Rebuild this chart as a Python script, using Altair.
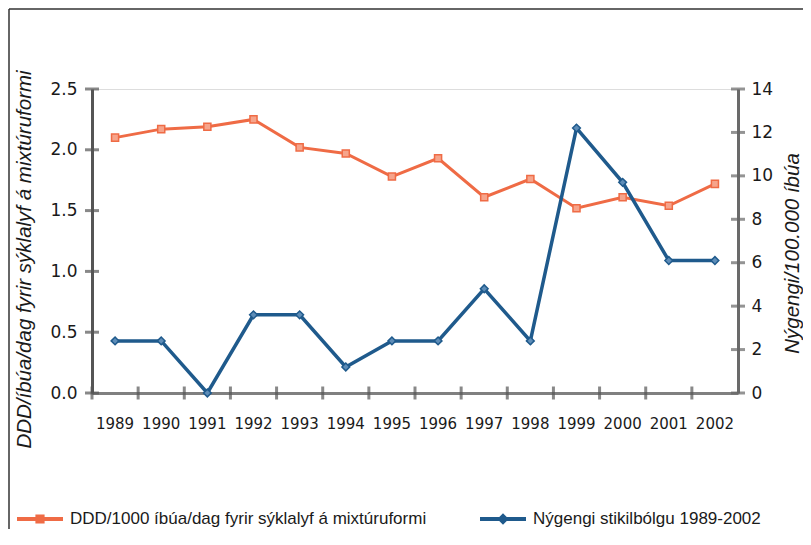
import altair as alt
import pandas as pd

years = [1989, 1990, 1991, 1992, 1993, 1994, 1995, 1996, 1997, 1998, 1999, 2000, 2001, 2002]
ddd = [2.10, 2.17, 2.19, 2.25, 2.02, 1.97, 1.78, 1.93, 1.61, 1.76, 1.52, 1.61, 1.54, 1.72]
incidence = [2.4, 2.4, 0.0, 3.6, 3.6, 1.2, 2.4, 2.4, 4.8, 2.4, 12.2, 9.7, 6.1, 6.1]
left_ticks = [0.0, 0.5, 1.0, 1.5, 2.0, 2.5]
right_ticks = [0, 2, 4, 6, 8, 10, 12, 14]
series_names = ["DDD/1000 íbúa/dag fyrir sýklalyf á mixtúruformi", "Nýgengi stikilbólgu 1989-2002"]
left_title = "DDD/íbúa/dag fyrir sýklalyf á mixtúruformi"
right_title = "Nýgengi/100.000 íbúa"

ORANGE = "#EF6B45"
ORANGE_FILL = "#F6A48B"
BLUE = "#1F5A8C"
BLUE_FILL = "#5E8DB8"
AX = "#555555"

W, H = 646, 304

df_o = pd.DataFrame({"year": years, "value": ddd, "series": series_names[0]})
df_b = pd.DataFrame({"year": years, "value": incidence, "series": series_names[1]})
df_all = pd.concat([df_o, df_b], ignore_index=True)
df_lt = pd.DataFrame({"v": left_ticks})
df_rt = pd.DataFrame({"v": right_ticks})
df_one = pd.DataFrame({"a": [0]})

xscale = alt.Scale(type="band", paddingInner=0, paddingOuter=0)

x_axis = alt.Axis(
    title=None, labelAngle=0, domain=True, domainColor="#808080", domainWidth=3,
    ticks=False, tickSize=0, labelPadding=23, labelFont="DejaVu Sans", labelFontSize=15,
    labelColor="#1a1a1a", grid=False,
)

orange = alt.Chart(df_o).mark_line(
    color=ORANGE, strokeWidth=3,
    point=alt.OverlayMarkDef(shape="square", size=50, filled=True, fill=ORANGE_FILL,
                             stroke=ORANGE, strokeWidth=1.5),
).encode(
    x=alt.X("year:O", scale=xscale, axis=x_axis),
    y=alt.Y("value:Q", scale=alt.Scale(domain=[0, 2.5], nice=False),
            axis=alt.Axis(orient="left", title=left_title, values=left_ticks, format=".1f",
                          domain=True, domainColor=AX, domainWidth=3, ticks=False, tickSize=0,
                          labelPadding=15, labelFont="DejaVu Sans", labelFontSize=17,
                          labelColor="#1a1a1a", grid=False,
                          titleFont="Liberation Sans", titleFontStyle="italic",
                          titleFontWeight="normal", titleFontSize=20.5, titleColor="#1a1a1a",
                          titlePadding=15, titleY=170)),
)

blue = alt.Chart(df_b).mark_line(
    color=BLUE, strokeWidth=3.5,
    point=alt.OverlayMarkDef(shape="diamond", size=60, filled=True, fill=BLUE_FILL,
                             stroke=BLUE, strokeWidth=1.5),
).encode(
    x=alt.X("year:O", scale=xscale, axis=x_axis),
    y=alt.Y("value:Q", scale=alt.Scale(domain=[0, 14], nice=False),
            axis=alt.Axis(orient="right", title=right_title, values=right_ticks, format="d",
                          domain=True, domainColor="#6a6a6a", domainWidth=3, ticks=False,
                          tickSize=0, labelPadding=13, labelFont="DejaVu Sans",
                          labelFontSize=17, labelColor="#1a1a1a", grid=False,
                          titleFont="Liberation Sans", titleFontStyle="italic",
                          titleFontWeight="normal", titleFontSize=20.5, titleColor="#1a1a1a",
                          titlePadding=10, titleAngle=270, titleBaseline="top", titleY=164)),
)

lticks = alt.Chart(df_lt).mark_tick(orient="horizontal", size=14, thickness=3, color=AX).encode(
    y=alt.Y("v:Q", scale=alt.Scale(domain=[0, 2.5], nice=False), axis=None),
    x=alt.value(0),
)
rticks = alt.Chart(df_rt).mark_tick(orient="horizontal", size=14, thickness=3, color="#666666").encode(
    y=alt.Y("v:Q", scale=alt.Scale(domain=[0, 14], nice=False), axis=None),
    x=alt.value(W),
)
xticks = alt.Chart(df_o).mark_tick(orient="vertical", size=13, thickness=3, color=AX).encode(
    x=alt.X("year:O", scale=xscale, bandPosition=0, axis=x_axis),
    y=alt.value(H),
)

sq_path = "M-1,-0.087H1V0.087H-1Z M-0.2,-0.2H0.2V0.2H-0.2Z"
dm_path = "M-1,-0.087H1V0.087H-1Z M0,-0.25L0.25,0L0,0.25L-0.25,0Z"

legend_layer = alt.Chart(df_all).mark_point(filled=True, opacity=0).encode(
    x=alt.X("year:O", scale=xscale, axis=x_axis),
    y=alt.value(0),
    color=alt.Color("series:N", scale=alt.Scale(domain=series_names, range=[ORANGE, BLUE]),
                    legend=alt.Legend(title=None, orient="none", legendX=-75, legendY=407,
                                      direction="horizontal", symbolSize=2116,
                                      symbolOpacity=1, symbolStrokeWidth=0,
                                      labelFont="Liberation Sans", labelFontSize=17,
                                      labelColor="#1a1a1a", labelOffset=7, columnPadding=53,
                                      padding=0, labelLimit=600)),
    shape=alt.Shape("series:N", scale=alt.Scale(domain=series_names, range=[sq_path, dm_path]),
                    legend=None),
)

frame_left = alt.Chart(df_one).mark_rule(color="#333333", strokeWidth=1.5).encode(
    x=alt.value(-83), y=alt.value(-80), y2=alt.value(460))
frame_top = alt.Chart(df_one).mark_rule(color="#333333", strokeWidth=1.5).encode(
    x=alt.value(-83), x2=alt.value(W + 65), y=alt.value(-80))

chart = alt.layer(
    frame_left, frame_top, xticks, lticks, rticks, orange, blue, legend_layer
).resolve_scale(y="independent").properties(
    width=W, height=H,
    autosize=alt.AutoSizeParams(type="none"),
    padding={"left": 84, "top": 81, "right": 65, "bottom": 136},
).configure_view(stroke=None).configure(background="white")

chart.save("out.html", embed_options={"renderer": "svg", "actions": False})
